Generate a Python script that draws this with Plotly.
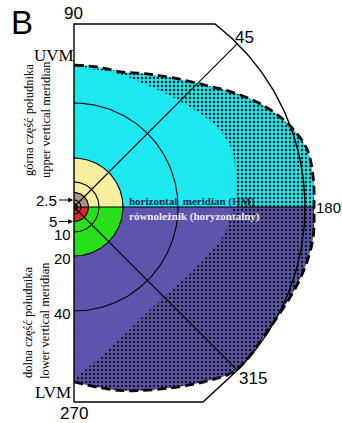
import numpy as np
import plotly.graph_objects as go

# ---------------- data ----------------
# eccentricity ring labels and their plotted radii (plot units)
ring_labels = ["2.5", "5", "10", "20", "40"]
ring_radius = [7, 14.5, 25, 49, 104]
ring_label_sign = [1, -1, -1, -1, -1]   # label above (+) / below (-) the horizontal meridian

# outer frame (90 deg circle, clipped top/bottom)
outer_radius = 231
frame_top = 183
frame_bottom = -195
frame_bottom_corner = 129

# meridian tick labels
meridian_labels = ["90", "45", "180", "315", "270"]

# visual-field extent (dashed), angle in degrees vs radius
field_up_ang = [0, 7, 14, 21, 29, 37, 41, 45, 53, 62, 71, 80, 90]
field_up_r = [240, 241, 240, 230, 213, 193, 183, 175, 162, 151, 143, 142, 142]
field_lo_ang = [0, -8, -18, -32, -45, -52, -62, -76, -90]
field_lo_r = [240, 241, 237, 230, 230, 220, 205, 189, 175]

# inner edge of the stippled (peripheral) zone
solid_up_ang = [0, 10, 20, 30, 45, 60, 75, 90]
solid_up_r = [162, 164, 168, 163, 150, 142, 140, 139]
solid_lo_ang = [0, -10, -28, -45, -62, -77, -90]
solid_lo_r = [158, 153, 135, 127, 132, 148, 172]

# colours
CYAN = "#1ee8ef"
PURPLE = "#5d55ab"
YELLOW = "#f8ef9e"
GREEN = "#26e01c"
RED = "#e4262c"
TAN = "#a99684"
DARK = "#6e5d52"


def pxy(ang, r):
    a = np.radians(np.asarray(ang, dtype=float))
    r = np.asarray(r, dtype=float)
    return r * np.cos(a), r * np.sin(a)


fig = go.Figure()


def fill_curve(ang, r, color, pattern=None, spline=True):
    x, y = pxy(ang, r)
    kw = dict(x=x, y=y, mode="lines", fill="tozeroy",
              line=dict(width=0, shape="spline" if spline else "linear", color=color),
              fillcolor=color, hoverinfo="skip", showlegend=False)
    if pattern:
        kw["fillpattern"] = dict(shape=".", fgcolor="#151515", bgcolor=color,
                                 size=4, solidity=0.3, fillmode="replace")
    fig.add_trace(go.Scatter(**kw))


# peripheral stippled zones (to dashed border)
fill_curve(field_up_ang, field_up_r, CYAN, pattern=True)
fill_curve(field_lo_ang, field_lo_r, PURPLE, pattern=True)
# solid zones
fill_curve(solid_up_ang, solid_up_r, CYAN)
fill_curve(solid_lo_ang, solid_lo_r, PURPLE)

# central quarter discs
q_up = np.linspace(0, 90, 91)
q_lo = np.linspace(0, -90, 91)
fill_curve(q_up, np.full_like(q_up, ring_radius[3]), YELLOW, spline=False)
fill_curve(q_lo, np.full_like(q_lo, ring_radius[3]), GREEN, spline=False)
fill_curve(q_up, np.full_like(q_up, ring_radius[1]), TAN, spline=False)
fill_curve(q_lo, np.full_like(q_lo, ring_radius[1]), RED, spline=False)
fill_curve(q_up, np.full_like(q_up, ring_radius[0] / 2), DARK, spline=False)
fill_curve(q_lo, np.full_like(q_lo, ring_radius[0] / 2), DARK, spline=False)

# ring arcs
arc = np.linspace(-90, 90, 181)
for rr in [ring_radius[0] / 2] + ring_radius:
    x, y = pxy(arc, np.full_like(arc, rr))
    fig.add_trace(go.Scatter(x=x, y=y, mode="lines", line=dict(color="black", width=1.1),
                             hoverinfo="skip", showlegend=False))

# diagonal meridians 45 / 315 and horizontal meridian
for a in (45, -45):
    x, y = pxy([0, a], [0, outer_radius])
    fig.add_trace(go.Scatter(x=x, y=y, mode="lines", line=dict(color="black", width=1.1),
                             hoverinfo="skip", showlegend=False))
fig.add_trace(go.Scatter(x=[0, field_up_r[0]], y=[0, 0], mode="lines",
                         line=dict(color="black", width=1.1), hoverinfo="skip", showlegend=False))

# outer frame
top_ang = np.degrees(np.arcsin(frame_top / outer_radius))
frame_arc = np.linspace(top_ang, -45, 120)
ax_, ay_ = pxy(frame_arc, np.full_like(frame_arc, outer_radius))
fx = np.concatenate([[0, 0], ax_, [frame_bottom_corner, 0]])
fy = np.concatenate([[frame_bottom, frame_top], ay_, [frame_bottom, frame_bottom]])
fig.add_trace(go.Scatter(x=fx, y=fy, mode="lines", line=dict(color="black", width=1.4),
                         hoverinfo="skip", showlegend=False))

# dashed visual field border
dash_ang = list(field_lo_ang[::-1]) + list(field_up_ang[1:])
dash_r = list(field_lo_r[::-1]) + list(field_up_r[1:])
dx, dy = pxy(dash_ang, dash_r)
fig.add_trace(go.Scatter(x=dx, y=dy, mode="lines",
                         line=dict(color="black", width=2.8, dash="9px,5px", shape="spline"),
                         hoverinfo="skip", showlegend=False))

ann = []
sans = "Liberation Sans, Arial, sans-serif"
serif = "Liberation Serif, Times New Roman, serif"

ann.append(dict(x=-52, y=185, text="B", font=dict(family=sans, size=33, color="black")))
# meridian labels
mx = [-1, 170, 240, 179, 0]
my = [194, 170, 0, -171, -206]
ms = [17, 17, 15, 17, 17]
for t, x, y, s in zip(meridian_labels, mx, my, ms):
    ann.append(dict(x=x, y=y, text=t, font=dict(family=sans, size=s, color="black"),
                    xanchor="left" if t == "180" else "center"))
ann.append(dict(x=-20, y=152, text="UVM", font=dict(family=serif, size=17, color="black")))
ann.append(dict(x=-21, y=-185, text="LVM", font=dict(family=serif, size=17, color="black")))

# ring labels
for i, (t, rr, s) in enumerate(zip(ring_labels, ring_radius, ring_label_sign)):
    if i < 2:
        ann.append(dict(x=-1, y=s * rr, ax=-14, ay=0, text=t, showarrow=True,
                        arrowhead=2, arrowsize=0.8, arrowwidth=1.2, arrowcolor="black",
                        xanchor="right", standoff=0, startstandoff=0,
                        font=dict(family=sans, size=15, color="black")))
    else:
        ann.append(dict(x=-1, y=s * rr - 2, text=t, xanchor="right",
                        font=dict(family=sans, size=15, color="black")))

# vertical meridian captions
cap = dict(family=serif, size=12.5, color="black")
ann.append(dict(x=-45, y=87, text="górna część południka", textangle=-90, font=cap))
ann.append(dict(x=-28, y=87, text="upper vertical meridian", textangle=-90, font=cap))
ann.append(dict(x=-46, y=-115, text="dolna część południka", textangle=-90, font=cap))
ann.append(dict(x=-29, y=-114, text="lower vertical meridian", textangle=-90, font=cap))

# horizontal meridian captions
ann.append(dict(x=53, y=6, text="<b>horizontal\u00a0 meridian (HM)</b>", xanchor="left",
                font=dict(family=serif, size=11, color="#06224e")))
ann.append(dict(x=53, y=-9, text="<b>równoleżnik (horyzontalny)</b>", xanchor="left",
                font=dict(family=serif, size=11, color="#ece8f6")))

for a in ann:
    a.setdefault("showarrow", False)
    a.setdefault("xref", "x")
    a.setdefault("yref", "y")

fig.update_layout(
    width=342, height=423,
    margin=dict(l=0, r=0, t=0, b=0),
    paper_bgcolor="white", plot_bgcolor="white",
    xaxis=dict(range=[-74, 268], visible=False, fixedrange=True),
    yaxis=dict(range=[-216, 207], visible=False, fixedrange=True),
    annotations=ann,
    showlegend=False,
    hovermode=False,
)

# remove the default 8px page margin so the figure fills the window exactly
fig.write_html("out.html", config={"displayModeBar": False},
               post_script="document.body.style.margin='0';")
